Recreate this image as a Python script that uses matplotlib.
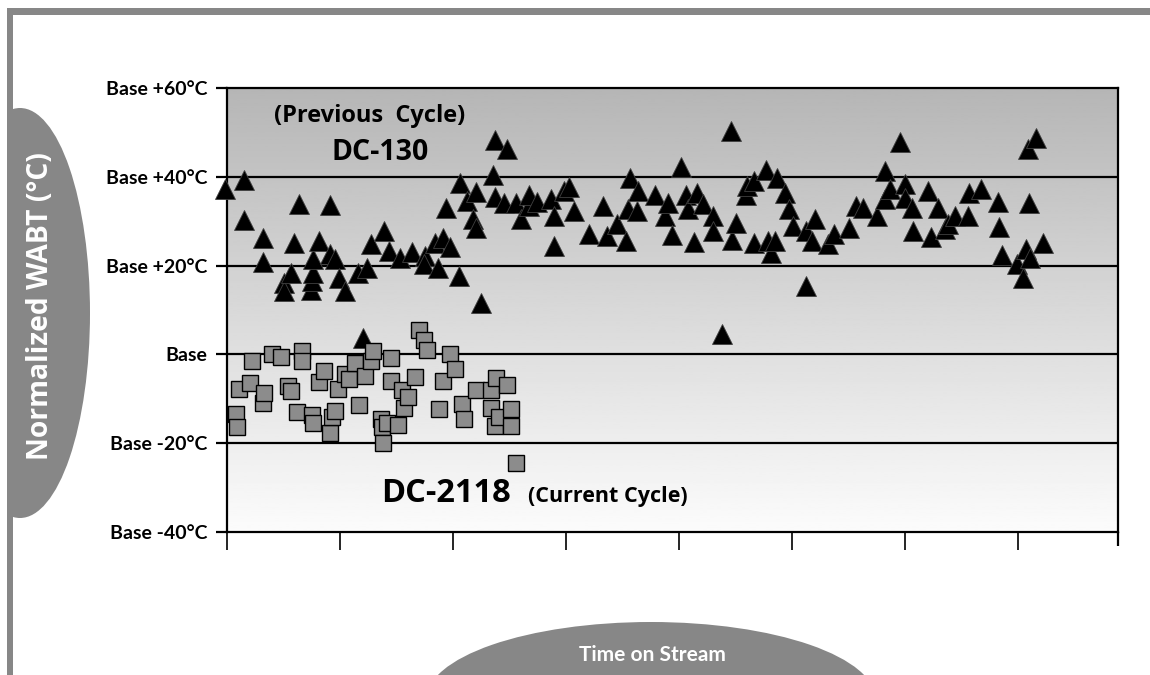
import matplotlib
matplotlib.use('Agg')
import matplotlib.pyplot as plt
from matplotlib.patches import Ellipse, Rectangle
import numpy as np

plt.rcParams['font.family'] = ['Lato', 'DejaVu Sans']
plt.rcParams['font.weight'] = 'bold'

# DC-130 (previous cycle), time on stream vs normalized WABT offset (deg C)
tri_x = [-0.02, 0.15, 0.15, 0.32, 0.32, 0.50, 0.50, 0.57, 0.59, 0.64,
         0.74, 0.75, 0.76, 0.76, 0.81, 0.91, 0.91, 0.96, 0.99, 1.04,
         1.16, 1.20, 1.24, 1.27, 1.39, 1.43, 1.53, 1.64, 1.75, 1.74,
         1.84, 1.91, 1.87, 1.97, 1.94, 2.05, 2.06, 2.12, 2.18, 2.20,
         2.20, 2.25, 2.35, 2.37, 2.37, 2.45, 2.48, 2.56, 2.60, 2.67,
         2.67, 2.74, 2.87, 2.89, 2.89, 2.98, 3.03, 3.07, 3.20, 3.33,
         3.36, 3.45, 3.53, 3.55, 3.57, 3.63, 3.64, 3.79, 3.88, 3.90,
         3.94, 4.02, 4.06, 4.08, 4.13, 4.16, 4.21, 4.30, 4.30, 4.38,
         4.46, 4.47, 4.50, 4.59, 4.60, 4.66, 4.66, 4.77, 4.79, 4.81,
         4.85, 4.87, 4.94, 4.97, 5.01, 5.12, 5.12, 5.18, 5.20, 5.32,
         5.37, 5.50, 5.57, 5.63, 5.75, 5.82, 5.82, 5.87, 5.96, 6.00,
         6.00, 6.06, 6.07, 6.20, 6.23, 6.29, 6.35, 6.38, 6.44, 6.56,
         6.57, 6.67, 6.82, 6.83, 6.86, 6.99, 7.04, 7.07, 7.09, 7.10,
         7.11, 7.16, 7.22]
tri_y = [37.3, 39.3, 30.2, 26.3, 20.9, 16.1, 14.3, 18.4, 25.0, 33.8,
         14.6, 16.5, 18.4, 21.4, 25.5, 33.6, 22.5, 21.4, 17.3, 14.3,
         18.4, 3.8, 19.5, 24.8, 27.8, 23.3, 21.8, 23.0, 22.1, 20.3,
         25.2, 26.3, 19.5, 24.3, 33.0, 17.6, 38.5, 34.5, 30.4, 28.5,
         36.6, 11.6, 40.5, 35.5, 48.3, 34.2, 46.2, 34.0, 30.4, 33.4,
         36.0, 34.3, 34.9, 31.1, 24.4, 36.8, 37.8, 32.3, 27.2, 33.4,
         26.6, 29.3, 25.5, 32.7, 39.8, 32.3, 36.8, 35.8, 31.1, 34.2,
         27.0, 42.3, 35.8, 32.8, 25.3, 36.4, 33.8, 31.1, 27.8, 4.5,
         50.3, 25.7, 29.7, 35.8, 37.9, 39.0, 25.2, 41.5, 25.5, 22.9,
         25.5, 39.8, 36.4, 32.7, 28.9, 27.8, 15.5, 25.5, 30.4, 24.8,
         27.2, 28.5, 33.4, 33.0, 31.1, 41.3, 34.9, 37.2, 47.8, 38.3,
         35.3, 33.0, 27.8, 36.8, 26.4, 33.0, 28.2, 29.3, 31.1, 31.1,
         36.4, 37.3, 34.3, 28.8, 22.3, 20.3, 17.3, 23.8, 46.3, 34.0,
         21.8, 48.8, 25.0]

# DC-2118 (current cycle)
sq_x = [0.08, 0.09, 0.11, 0.20, 0.22, 0.32, 0.33, 0.40, 0.48, 0.54,
        0.57, 0.62, 0.66, 0.66, 0.75, 0.76, 0.81, 0.86, 0.91, 0.93,
        0.96, 0.98, 1.04, 1.08, 1.13, 1.17, 1.22, 1.27, 1.29, 1.36,
        1.37, 1.38, 1.42, 1.45, 1.45, 1.51, 1.55, 1.57, 1.60, 1.66,
        1.70, 1.74, 1.77, 1.88, 1.91, 1.97, 2.02, 2.08, 2.10, 2.20,
        2.34, 2.34, 2.37, 2.38, 2.41, 2.48, 2.51, 2.51, 2.56]
sq_y = [-13.5, -16.3, -7.9, -6.4, -1.4, -11.0, -8.8, 0.2, -0.5, -7.1,
        -8.3, -12.9, 0.7, -1.4, -13.7, -15.5, -6.2, -3.8, -17.6, -14.0,
        -12.8, -7.9, -4.5, -5.6, -1.9, -11.4, -4.9, -1.5, 0.7, -14.6,
        -16.4, -20.0, -15.4, -0.7, -6.0, -16.0, -8.0, -12.0, -9.5, -5.1,
        5.4, 3.2, 0.9, -12.4, -6.0, 0.2, -3.2, -11.1, -14.6, -8.1,
        -12.0, -8.1, -16.1, -5.4, -14.0, -6.8, -12.4, -16.1, -24.5]

y_ticks = [-40, -20, 0, 20, 40, 60]
y_labels = ['Base -40°C', 'Base -20°C', 'Base', 'Base +20°C', 'Base +40°C', 'Base +60°C']
x_ticks = [0, 1, 2, 3, 4, 5, 6, 7]

W, H = 1150, 675
fig = plt.figure(figsize=(W / 100, H / 100), dpi=100)
fig.patch.set_facecolor('white')
wide = ['Open Sans', 'DejaVu Sans']

# background decorations in pixel coordinates
bg = fig.add_axes([0, 0, 1, 1], zorder=0)
bg.set_xlim(0, W)
bg.set_ylim(H, 0)
bg.axis('off')
frame_col = '#878787'
bg.add_patch(Ellipse((20, 313), 140, 410, color=frame_col, lw=0))
bg.add_patch(Ellipse((651, 700), 450, 156, color=frame_col, lw=0))
bg.add_patch(Rectangle((0, 0), 7, H, color='white', lw=0))
bg.add_patch(Rectangle((7, 8), W, 7, color=frame_col, lw=0))
bg.add_patch(Rectangle((7, 8), 6, H, color=frame_col, lw=0))
bg.text(41, 306, 'Normalized WABT (°C)', rotation=90, color='white',
        fontsize=20.3, fontweight='bold', family=wide, ha='center', va='center')
bg.text(652, 655, 'Time on Stream', color='white', fontsize=15,
        fontweight='bold', ha='center', va='center')

ax = fig.add_axes([227 / W, 1 - 532 / H, (1118 - 227) / W, (532 - 88) / H], zorder=1)
xmax = (1118 - 227) / 113
ax.set_xlim(0, xmax)
ax.set_ylim(-40, 60)

# vertical gradient background
grad = np.linspace(0, 1, 256).reshape(-1, 1)
ax.imshow(grad, extent=[0, xmax, -40, 60], aspect='auto', cmap='gray',
          vmin=-2.6, vmax=1.05, origin='upper', zorder=0)

for yv in [-20, 0, 20, 40]:
    ax.axhline(yv, color='black', lw=1.6, zorder=1)

ax.plot(tri_x, tri_y, '^', ms=15, color='black', mec='#404040', mew=0.6,
        clip_on=False, zorder=3)
ax.plot(sq_x, sq_y, 's', ms=12, color='#8c8c8c', mec='black', mew=1.0,
        zorder=4)

ax.text(1.265, 53.6, '(Previous  Cycle)', fontsize=17, fontweight='bold',
        family=wide, ha='center', va='center')
ax.text(1.354, 45.5, 'DC-130', fontsize=20.5, fontweight='bold',
        family=wide, ha='center', va='center')
ax.text(1.363, -33.3, 'DC-2118', fontsize=23.5, fontweight='bold',
        family=wide, ha='left', va='baseline')
ax.text(2.664, -33.3, '(Current Cycle)', fontsize=15.5, fontweight='bold',
        family=wide, ha='left', va='baseline')

ax.set_yticks(y_ticks)
ax.set_yticklabels(y_labels, fontsize=14, fontweight='bold')
ax.set_xticks(x_ticks)
ax.set_xticklabels([])
ax.tick_params(axis='y', length=8, width=1.6, pad=6)
ax.tick_params(axis='x', length=13, width=1.2)
for s in ax.spines.values():
    s.set_linewidth(1.6)
ax.set_xticks([xmax], minor=True)
ax.tick_params(axis='x', which='minor', length=10, width=1.6)

fig.savefig('out.png', dpi=100, facecolor='white')
